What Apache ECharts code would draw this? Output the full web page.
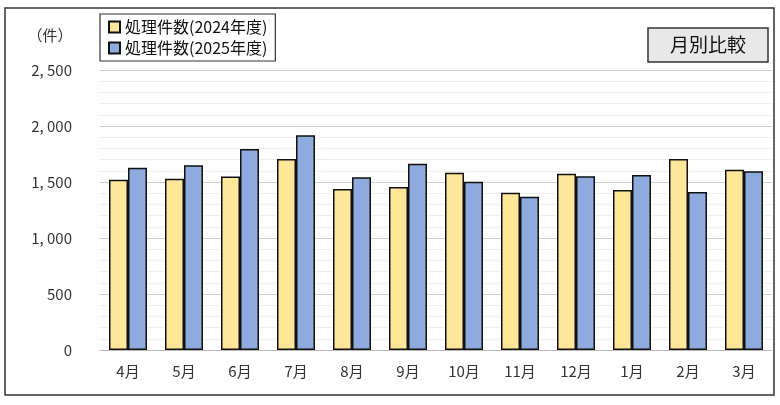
<!DOCTYPE html><html><head><meta charset="utf-8"><script src="https://cdn.jsdelivr.net/npm/echarts@6/dist/echarts.min.js"></script></head><body style="margin:0"><div id="c" style="width:780px;height:405px"></div><script>
const categories=['4月','5月','6月','7月','8月','9月','10月','11月','12月','1月','2月','3月'];
const s2024=[1520,1530,1548,1705,1437,1455,1583,1405,1574,1429,1705,1610];
const s2025=[1628,1649,1795,1917,1542,1664,1503,1369,1551,1563,1411,1595];
const F='"Noto Sans CJK JP"';
const c=echarts.init(document.getElementById('c'));
c.setOption({animation:false,backgroundColor:'#fff',
graphic:[{type:'rect',shape:{x:5,y:8,width:769,height:387},style:{fill:'none',stroke:'#333',lineWidth:1.5}},
{type:'rect',shape:{x:648,y:28,width:120,height:34},style:{fill:'#e8e8e8',stroke:'#333',lineWidth:1.5}},
{type:'text',x:708,y:45,style:{text:'月別比較',fill:'#111',font:'19px '+F,align:'center',verticalAlign:'middle'}},
{type:'text',x:50,y:35,style:{text:'（件）',fill:'#333',font:'15px '+F,align:'center',verticalAlign:'middle'}}],
legend:{left:100,top:14,orient:'vertical',icon:'rect',itemGap:5,itemWidth:11,itemHeight:11,borderColor:'#333',borderWidth:1.2,padding:[5,8],textStyle:{fontFamily:F,fontSize:16,color:'#111'},data:['処理件数(2024年度)','処理件数(2025年度)']},
grid:{left:100,right:8,top:70,bottom:55},
xAxis:{type:'category',data:categories,axisTick:{show:false},axisLine:{lineStyle:{color:'#bbb'}},axisLabel:{fontFamily:F,fontSize:15,color:'#333',margin:14}},
yAxis:{type:'value',min:0,max:2500,interval:500,axisLabel:{fontFamily:F,fontSize:15,color:'#333',margin:28,formatter:v=>v.toLocaleString('en-US').replace(',',', ')},splitLine:{lineStyle:{color:'#cfcfcf'}},minorTick:{show:false,splitNumber:5},minorSplitLine:{show:true,lineStyle:{color:'#ededed'}}},
series:[{name:'処理件数(2024年度)',type:'bar',data:s2024,barWidth:19,barGap:'0%',itemStyle:{color:'#ffe699',borderColor:'#111',borderWidth:1.5}},
{name:'処理件数(2025年度)',type:'bar',data:s2025,barWidth:19,itemStyle:{color:'#8faadc',borderColor:'#111',borderWidth:1.5}}]});
</script></body></html>
